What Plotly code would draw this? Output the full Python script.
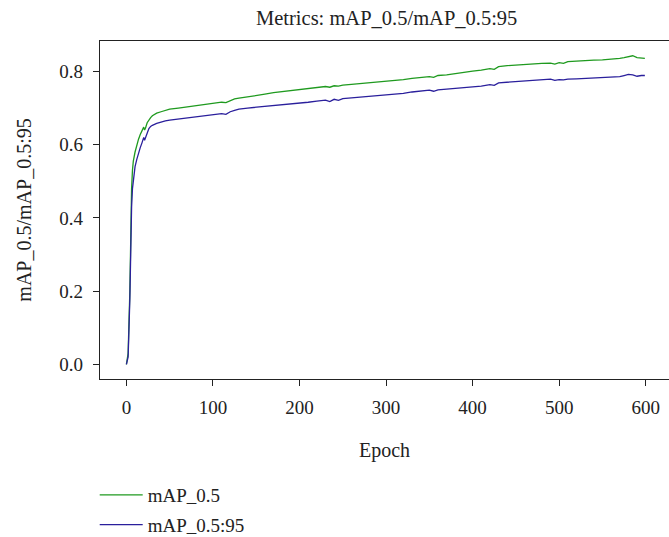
import plotly.graph_objects as go

epochs = [0, 2, 4, 5, 6, 7, 8, 10, 12, 14, 16, 18, 20, 21, 22, 24, 26, 28, 30, 35,
          40, 45, 50, 60, 70, 80, 90, 100, 110, 115, 120, 125, 130, 140, 150, 160, 170,
          180, 190, 200, 210, 220, 230, 235, 240, 245, 250, 260, 270, 280, 290, 300,
          310, 320, 330, 340, 350, 355, 360, 370, 380, 390, 400, 410, 420, 425, 430,
          440, 450, 460, 470, 480, 490, 495, 500, 505, 510, 520, 530, 540, 550, 560,
          570, 575, 580, 585, 590, 595, 599]

map_05 = [0.0, 0.03, 0.20, 0.38, 0.48, 0.53, 0.555, 0.58, 0.600, 0.615, 0.628, 0.638,
          0.648, 0.640, 0.645, 0.660, 0.668, 0.674, 0.679, 0.686, 0.690, 0.693, 0.697,
          0.700, 0.703, 0.706, 0.709, 0.712, 0.716, 0.715, 0.721, 0.725, 0.727, 0.730,
          0.735, 0.738, 0.742, 0.745, 0.748, 0.750, 0.753, 0.757, 0.759, 0.757, 0.761,
          0.760, 0.763, 0.765, 0.767, 0.769, 0.771, 0.772, 0.775, 0.778, 0.781, 0.784,
          0.786, 0.784, 0.789, 0.791, 0.795, 0.798, 0.801, 0.804, 0.808, 0.806, 0.813,
          0.816, 0.818, 0.819, 0.821, 0.822, 0.823, 0.820, 0.824, 0.822, 0.827, 0.829,
          0.830, 0.831, 0.832, 0.833, 0.836, 0.838, 0.841, 0.843, 0.838, 0.837, 0.836]

map_05_95 = [0.0, 0.02, 0.18, 0.33, 0.43, 0.48, 0.505, 0.540, 0.560, 0.578, 0.592, 0.605,
             0.620, 0.612, 0.618, 0.634, 0.644, 0.650, 0.653, 0.658, 0.662, 0.665, 0.667,
             0.670, 0.672, 0.675, 0.678, 0.681, 0.685, 0.683, 0.690, 0.694, 0.697, 0.700,
             0.702, 0.705, 0.707, 0.709, 0.711, 0.714, 0.716, 0.719, 0.722, 0.718, 0.724,
             0.721, 0.726, 0.728, 0.730, 0.732, 0.733, 0.735, 0.736, 0.740, 0.744, 0.747,
             0.749, 0.746, 0.750, 0.752, 0.754, 0.755, 0.758, 0.760, 0.764, 0.762, 0.769,
             0.771, 0.772, 0.774, 0.776, 0.778, 0.779, 0.776, 0.778, 0.777, 0.779, 0.780,
             0.781, 0.783, 0.783, 0.783, 0.786, 0.789, 0.792, 0.791, 0.787, 0.789, 0.789]

x_ticks = [0, 100, 200, 300, 400, 500, 600]
y_ticks = [0.0, 0.2, 0.4, 0.6, 0.8]
y_tick_labels = ["0.0", "0.2", "0.4", "0.6", "0.8"]

FONT = "Liberation Serif"
INK = "#222"

fig = go.Figure()
fig.add_trace(go.Scatter(x=epochs, y=map_05, mode="lines", name="mAP_0.5",
                         line=dict(color="#1f9a1f", width=1.3), legendgroup="a"))
fig.add_trace(go.Scatter(x=epochs, y=map_05_95, mode="lines", name="mAP_0.5:95",
                         line=dict(color="#2a1f9c", width=1.3), legendgroup="b"))

fig.update_layout(
    width=669, height=537,
    margin=dict(l=100, r=0, t=41, b=158),
    plot_bgcolor="white", paper_bgcolor="white",
    font=dict(family=FONT, size=20, color=INK),
    title=dict(text="Metrics: mAP_0.5/mAP_0.5:95", x=0.578, xanchor="center",
               y=1 - 18 / 537, yanchor="middle", font=dict(size=20.5, family=FONT, color=INK)),
    xaxis=dict(range=[-30.5, 626.9], tickvals=x_ticks, ticks="outside", ticklen=6,
               tickwidth=1.2, tickcolor=INK, showline=True, linecolor=INK,
               linewidth=1.3, mirror=True, showgrid=False, zeroline=False,
               ticklabelstandoff=5,
               title=dict(text="Epoch", standoff=26, font=dict(size=20)),
               tickfont=dict(size=19)),
    yaxis=dict(range=[-0.0402, 0.8833], tickvals=y_ticks, ticktext=y_tick_labels,
               ticks="outside", ticklen=6, tickwidth=1.2, tickcolor=INK,
               showline=True, linecolor=INK, linewidth=1.3, showgrid=False,
               zeroline=False, ticklabelstandoff=6,
               title=dict(text="mAP_0.5/mAP_0.5:95", standoff=22, font=dict(size=20)),
               tickfont=dict(size=19)),
    legend=dict(xref="paper", x=-0.0093, xanchor="left",
                yref="container", y=1 - 476 / 537, yanchor="top",
                orientation="v", tracegroupgap=2, itemwidth=43, font=dict(size=19),
                bgcolor="rgba(0,0,0,0)"),
    showlegend=True,
)

fig.write_html("out.html", config={"displayModeBar": False},
               post_script="document.body.style.margin='0';")
